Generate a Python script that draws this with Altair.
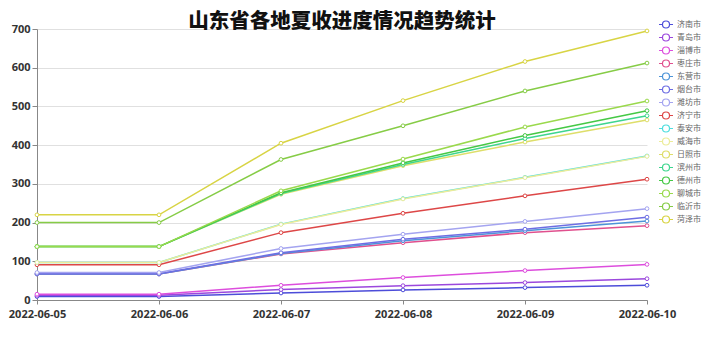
import altair as alt
import pandas as pd

dates = ["2022-06-05", "2022-06-06", "2022-06-07", "2022-06-08", "2022-06-09", "2022-06-10"]
cities = ["济南市", "青岛市", "淄博市", "枣庄市", "东营市", "烟台市", "潍坊市", "济宁市",
          "泰安市", "威海市", "日照市", "滨州市", "德州市", "聊城市", "临沂市", "菏泽市"]
colors = ["#4d4dd9", "#9b48dd", "#dd4edd", "#e0508e", "#4d94d8", "#6e6ee3", "#a4a4f0", "#dd4747",
          "#4fdede", "#ecec9a", "#dede6a", "#3ed68e", "#45c845", "#9ad94c", "#86cc46", "#d8d444"]

jinan    = [9, 9, 18, 26, 32, 38]
qingdao  = [12, 12, 27, 37, 45, 55]
zibo     = [15, 15, 38, 58, 76, 92]
zaozhuang = [67, 67, 119, 148, 174, 192]
dongying = [67, 67, 120, 153, 179, 204]
yantai   = [68, 68, 122, 157, 183, 214]
weifang  = [71, 71, 133, 170, 203, 236]
jining   = [91, 91, 174, 224, 269, 312]
taian    = [97, 97, 196, 262, 317, 372]
weihai   = [97, 97, 195, 261, 316, 371]
rizhao   = [138, 138, 273, 347, 408, 465]
binzhou  = [138, 138, 275, 350, 417, 476]
dezhou   = [138, 138, 277, 354, 425, 489]
liaocheng = [138, 138, 282, 364, 447, 514]
linyi    = [200, 200, 363, 450, 540, 612]
heze     = [220, 220, 405, 515, 616, 695]

series = [jinan, qingdao, zibo, zaozhuang, dongying, yantai, weifang, jining,
          taian, weihai, rizhao, binzhou, dezhou, liaocheng, linyi, heze]

rows = []
for city, vals in zip(cities, series):
    for d, v in zip(dates, vals):
        rows.append({"日期": d, "城市": city, "值": v})
df = pd.DataFrame(rows)

legend_path = ("M-1.27,0H-0.64M0.64,0H1.27M-0.64,0A0.64,0.64 0 1,1 0.64,0"
               "A0.64,0.64 0 1,1 -0.64,0Z")

chart = alt.Chart(df).mark_line(
    strokeWidth=1.5,
    point=alt.OverlayMarkDef(filled=False, fill="white", size=14, strokeWidth=1),
).encode(
    x=alt.X("日期:O", sort=dates, scale=alt.Scale(type="point", padding=0),
            axis=alt.Axis(title=None, labelAngle=0, labelFontSize=11, labelFontWeight="bold",
                          labelColor="#333", labelFont="Open Sans", domainColor="#888",
                          tickColor="#888", tickSize=4, labelPadding=4, grid=False)),
    y=alt.Y("值:Q", scale=alt.Scale(domain=[0, 700], nice=False),
            axis=alt.Axis(title=None, values=[0, 100, 200, 300, 400, 500, 600, 700],
                          labelFontSize=11, labelFontWeight="bold", labelColor="#333",
                          labelFont="Open Sans", domainColor="#888", tickColor="#888",
                          tickSize=5, labelPadding=2, gridColor="#e0e0e0")),
    color=alt.Color("城市:N", sort=cities, scale=alt.Scale(domain=cities, range=colors),
                    legend=alt.Legend(title=None, orient="none", legendX=622.5, legendY=-11,
                                      symbolType=legend_path, symbolSize=121,
                                      symbolStrokeWidth=1.2, symbolFillColor="white",
                                      labelFontSize=8, labelColor="#666",
                                      labelFont="Noto Sans CJK SC", labelOffset=4.5,
                                      rowPadding=0, padding=0)),
).properties(
    width=610, height=271,
    title=alt.TitleParams("山东省各地夏收进度情况趋势统计", fontSize=20.5, fontWeight=900,
                          font="Noto Sans CJK SC", color="#111", anchor="middle", offset=-14),
    autosize=alt.AutoSizeParams(type="none"),
    padding={"left": 37, "top": 29, "right": 71, "bottom": 38},
).configure_view(stroke=None)

chart.save("out.html", embed_options={"renderer": "svg", "actions": False})
